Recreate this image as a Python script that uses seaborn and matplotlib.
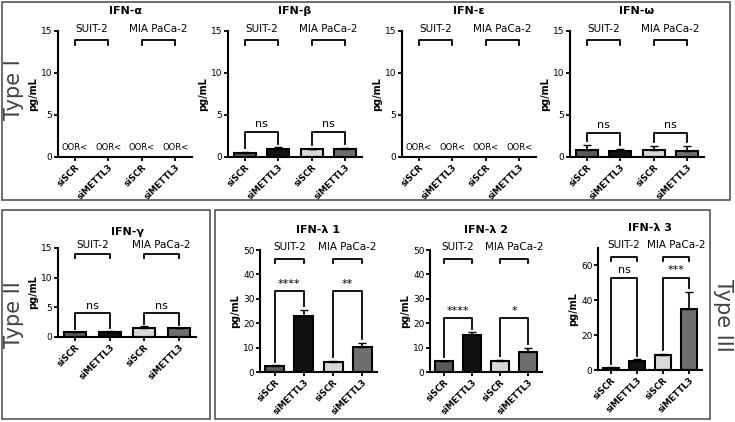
import matplotlib
matplotlib.use("Agg")
import matplotlib.pyplot as plt
import seaborn as sns
import pandas as pd
from matplotlib.patches import Rectangle

conds = ["siSCR", "siMETTL3", "siSCR", "siMETTL3"]
groups = ["SUIT-2", "MIA PaCa-2"]
colors = ["#5a5a5a", "#111111", "#d8d8d8", "#6e6e6e"]

beta_v = [0.5, 1.0, 0.9, 1.0]; beta_e = [0.1, 0.15, 0.1, 0.1]
omega_v = [0.8, 0.7, 0.8, 0.7]; omega_e = [0.6, 0.3, 0.5, 0.6]
gamma_v = [0.8, 0.8, 1.5, 1.5]; gamma_e = [0.1, 0.2, 0.3, 0.1]
l1_v = [2.5, 23.0, 4.2, 10.3]; l1_e = [0.3, 2.5, 0.5, 1.6]
l2_v = [4.5, 15.0, 4.7, 8.0]; l2_e = [0.2, 1.3, 0.3, 1.8]
l3_v = [1.0, 5.0, 8.5, 35.0]; l3_e = [0.5, 1.2, 0.8, 10.0]

W, H = 735, 422
fig = plt.figure(figsize=(W/100, H/100), dpi=100)
plt.rcParams["font.family"] = "DejaVu Sans"

def pax(x0, y0, x1, y1):
    return fig.add_axes([x0/W, 1-y1/H, (x1-x0)/W, (y1-y0)/H])

def bracket(ax, x0, x1, y, h, l0=None, l1=None, lw=1.3):
    ya = y - h if l0 is None else l0
    yb = y - h if l1 is None else l1
    ax.plot([x0, x0, x1, x1], [ya, y, y, yb], color="black", lw=lw, clip_on=False)

def panel(box, title, vals, errs, ymax, ticks, cmp_y=None, cmp_lab=None):
    ax = pax(*box)
    if vals:
        df = pd.DataFrame({"x": [0, 1, 2, 3], "v": vals})
        sns.barplot(data=df, x="x", y="v", hue="x", palette=colors, legend=False,
                    edgecolor="black", linewidth=1.5, width=0.65, ax=ax, errorbar=None)
        ax.errorbar([0, 1, 2, 3], vals, yerr=[[0]*4, errs], fmt="none",
                    ecolor="black", capsize=3, lw=1.2)
    else:
        for i in range(4):
            ax.text(i, ymax*0.04, "OOR<", ha="center", va="bottom", fontsize=6)
    ax.set_xlim(-0.5, 3.5)
    ax.set_ylim(0, ymax)
    ax.set_yticks(ticks)
    ax.tick_params(axis="y", labelsize=6.5, width=1.3, length=3, pad=1)
    ax.tick_params(axis="x", width=1.3, length=3, pad=1)
    ax.set_xticks([0, 1, 2, 3])
    ax.set_xticklabels(conds, rotation=45, ha="right", rotation_mode="anchor",
                       fontsize=6.2, fontweight="bold")
    ax.set_xlabel(""); ax.set_ylabel("pg/mL", fontsize=7, fontweight="bold", labelpad=2)
    for s in ["top", "right"]:
        ax.spines[s].set_visible(False)
    for s in ["left", "bottom"]:
        ax.spines[s].set_linewidth(1.5)
    gy = ymax*0.93
    for k, g in enumerate(groups):
        bracket(ax, 2*k, 2*k+1, gy, ymax*0.04)
        ax.text(2*k+0.5, gy+ymax*0.05, g, ha="center", va="bottom", fontsize=7.5)
    ax.text(1.5, gy+ymax*0.19, title, ha="center", va="bottom", fontsize=8, fontweight="bold")
    if cmp_y is not None:
        for k in range(2):
            a, b = 2*k, 2*k+1
            ta = vals[a]+errs[a]+ymax*0.03
            tb = vals[b]+errs[b]+ymax*0.03
            bracket(ax, a, b, cmp_y, 0, l0=ta, l1=tb)
            ax.text(a+0.5, cmp_y+ymax*0.02, cmp_lab[k], ha="center", va="bottom", fontsize=8)
    return ax

t15 = [0, 5, 10, 15]
panel((58, 31, 192, 157), "IFN-α", None, None, 15, t15)
panel((228, 31, 362, 157), "IFN-β", beta_v, beta_e, 15, t15, 3.0, ["ns", "ns"])
panel((402, 31, 536, 157), "IFN-ε", None, None, 15, t15)
panel((570, 31, 704, 157), "IFN-ω", omega_v, omega_e, 15, t15, 2.9, ["ns", "ns"])
panel((58, 248, 196, 337), "IFN-γ", gamma_v, gamma_e, 15, t15, 4.0, ["ns", "ns"])
panel((260, 250, 377, 372), "IFN-λ 1", l1_v, l1_e, 50, [0, 10, 20, 30, 40, 50], 33, ["****", "**"])
panel((430, 250, 542, 372), "IFN-λ 2", l2_v, l2_e, 50, [0, 10, 20, 30, 40, 50], 22, ["****", "*"])
panel((598, 248, 702, 370), "IFN-λ 3", l3_v, l3_e, 70, [0, 20, 40, 60], 53, ["ns", "***"])

for (x0, y0, x1, y1) in [(2, 2, 730, 200), (2, 210, 210, 419), (215, 210, 710, 419)]:
    fig.patches.append(Rectangle((x0/W, 1-y1/H), (x1-x0)/W, (y1-y0)/H, transform=fig.transFigure,
                                 fill=False, edgecolor="#555555", lw=1.2))
fig.text(14/W, 1-90/H, "Type I", rotation=90, ha="center", va="center", fontsize=15, color="#444444")
fig.text(14/W, 1-315/H, "Type II", rotation=90, ha="center", va="center", fontsize=15, color="#444444")
fig.text(723/W, 1-315/H, "Type III", rotation=-90, ha="center", va="center", fontsize=15, color="#444444")

fig.savefig("out.png", dpi=100)
